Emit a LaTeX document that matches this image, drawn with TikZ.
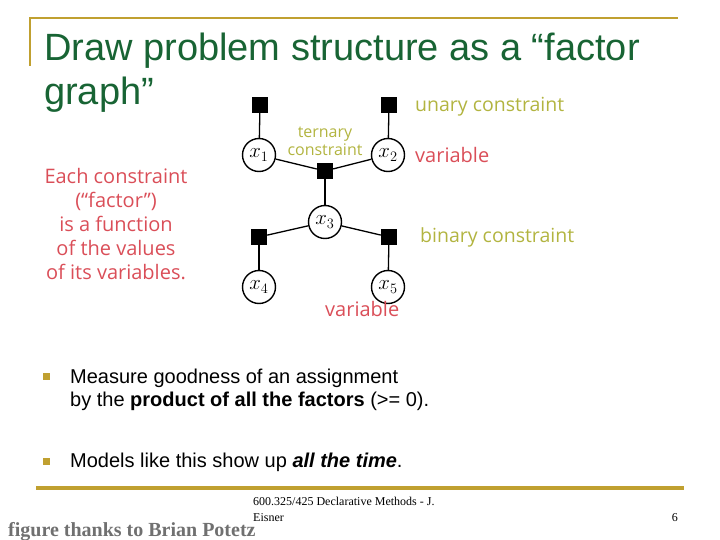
\documentclass[tikz,border=0pt]{standalone}
\usepackage{fontspec}
\setmainfont{Liberation Sans}
\newfontfamily\handfont{Open Sans}
\newfontfamily\footfont{Liberation Serif}
\definecolor{titlegreen}{RGB}{24,100,52}
\definecolor{rulegold}{RGB}{192,160,48}
\definecolor{noteolive}{RGB}{178,180,64}
\definecolor{notered}{RGB}{218,78,88}
\definecolor{creditgray}{RGB}{112,112,112}

\begin{document}
\begin{tikzpicture}[x=1pt, y=-1pt,
        var_node/.style={circle, draw, line width=1.4pt, fill=white, minimum size=33pt, inner sep=0pt, font=\fontsize{20}{20}\selectfont},
        factor_box/.style={rectangle, fill=black, minimum size=16pt, inner sep=0pt},
        olive_note/.style={font=\handfont\fontsize{19.5}{20}\selectfont, text=noteolive, inner sep=0pt, anchor=base west},
        red_note/.style={font=\handfont\fontsize{20}{20}\selectfont, text=notered, inner sep=0pt},
        bullet_text/.style={font=\fontsize{20}{23}\selectfont, anchor=base west, inner sep=0pt},
        bullet_box/.style={rectangle, fill=rulegold, minimum size=7pt, inner sep=0pt},
        edge_line/.style={line width=1.3pt}
    ]
        \useasboundingbox (0,0) rectangle (720,540);

        % Frame rules
        \draw[rulegold, line width=2.5pt] (30,66) -- (30,18) -- (678,18);
        \draw[rulegold, line width=4pt] (36,488) -- (684,488);

        % Title
        \node[text=titlegreen, font=\fontsize{38}{44}\selectfont, anchor=base west, inner sep=0pt] (title1) at (44,61) {Draw problem structure as a “factor};
        \node[text=titlegreen, font=\fontsize{38}{44}\selectfont, anchor=base west, inner sep=0pt] (title2) at (44,105) {graph”};

        % Variables
        \node[var_node] (x1) at (259,155) {$x_1$};
        \node[var_node] (x2) at (388,155) {$x_2$};
        \node[var_node] (x3) at (325,222) {$x_3$};
        \node[var_node] (x4) at (259,287) {$x_4$};
        \node[var_node] (x5) at (388,287) {$x_5$};

        % Factors
        \node[factor_box] (u1) at (260,105) {};
        \node[factor_box] (u2) at (389,105) {};
        \node[factor_box] (t123) at (325,171) {};
        \node[factor_box] (b34) at (259,237) {};
        \node[factor_box] (b35) at (389,237) {};

        % Edges
        \draw[edge_line] (u1) -- (x1);
        \draw[edge_line] (u2) -- (x2);
        \draw[edge_line] (x1) -- (t123);
        \draw[edge_line] (x2) -- (t123);
        \draw[edge_line] (t123) -- (x3);
        \draw[edge_line] (x3) -- (b34);
        \draw[edge_line] (x3) -- (b35);
        \draw[edge_line] (b34) -- (x4);
        \draw[edge_line] (b35) -- (x5);

        % Notes
        \node[olive_note] (unary) at (415,112) {unary constraint};
        \node[olive_note, anchor=center, align=center, font=\handfont\fontsize{16}{18}\selectfont] (ternary) at (325,141) {ternary\\constraint};
        \node[red_note, anchor=base west] (var_a) at (415,163) {variable};
        \node[olive_note] (binary) at (420,243) {binary constraint};
        \node[red_note, anchor=base west] (var_b) at (325,316) {variable};
        \node[red_note, align=center, font=\handfont\fontsize{20}{24}\selectfont] (factor_note) at (116,224) {Each constraint\\(“factor”)\\is a function\\of the values\\of its variables.};

        % Bullets
        \node[bullet_box] (dot1) at (46,376) {};
        \node[bullet_text, align=left] (item1) at (70,406) {Measure goodness of an assignment\\by the \textbf{product of all the factors} (>= 0).};
        \node[bullet_box] (dot2) at (46,461) {};
        \node[bullet_text] (item2) at (70,467) {Models like this show up \textbf{\textit{all the time}}.};

        % Footer
        \node[font=\footfont\fontsize{12}{16}\selectfont, anchor=base west, align=left, inner sep=0pt] (course) at (253,521) {600.325/425 Declarative Methods - J.\\Eisner};
        \node[font=\footfont\fontsize{12}{12}\selectfont, anchor=base east, inner sep=0pt] (page) at (678,521) {6};
        \node[font=\footfont\bfseries\fontsize{20}{20}\selectfont, text=creditgray, anchor=base west, inner sep=0pt] (credit) at (8,536) {figure thanks to Brian Potetz};
    \end{tikzpicture}
\end{document}
